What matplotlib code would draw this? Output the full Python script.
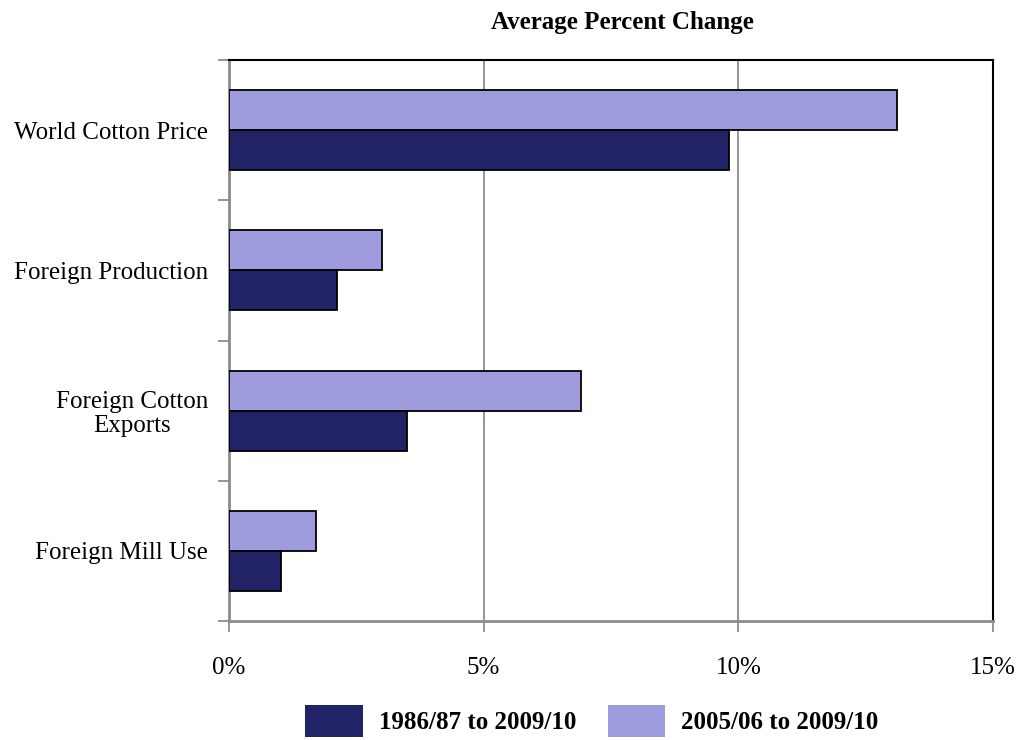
import matplotlib

matplotlib.use("Agg")
import matplotlib.pyplot as plt
from matplotlib.patches import Patch
import numpy as np

categories = ["World Cotton Price", "Foreign Production", "Foreign Cotton\nExports", "Foreign Mill Use"]
long_run = [9.82, 2.12, 3.50, 1.02]      # 1986/87 to 2009/10
recent = [13.12, 3.00, 6.91, 1.71]       # 2005/06 to 2009/10
series_labels = ["1986/87 to 2009/10", "2005/06 to 2009/10"]
x_ticks = [0, 5, 10, 15]

DARK = "#222266"
LIGHT = "#9e9cdd"
GRID = "#8c8c8c"

plt.rcParams["font.family"] = ["Liberation Serif", "DejaVu Serif"]

fig = plt.figure(figsize=(10.23, 7.4), dpi=100)
ax = fig.add_axes([229 / 1023, 119 / 740, 764 / 1023, 561 / 740])

n = len(categories)
centers = np.arange(n)[::-1] + 0.5
h = 0.286
ax.barh(centers + h / 2, recent, height=h, color=LIGHT, edgecolor="black", linewidth=1.3, zorder=3)
ax.barh(centers - h / 2, long_run, height=h, color=DARK, edgecolor="black", linewidth=1.3, zorder=3)

ax.set_xlim(0, 15)
ax.set_ylim(0, n)
ax.set_xticks(x_ticks)
ax.set_xticklabels([f"{t}%" for t in x_ticks], fontsize=18)
ax.set_yticks(np.arange(n + 1))
ax.set_yticklabels([])
ax.set_yticks(centers, minor=True)
ax.set_yticklabels(categories, minor=True, fontsize=18, ha="right", multialignment="center",
                   linespacing=1.12)
ax.tick_params(axis="y", which="minor", length=0, pad=15)
ax.tick_params(axis="y", which="major", length=8, color=GRID, width=1.3)
ax.tick_params(axis="x", length=8, color=GRID, width=1.3, pad=18)

for v in x_ticks[1:-1]:
    ax.axvline(v, color=GRID, linewidth=1.3, zorder=1)

ax.spines["left"].set_color(GRID)
ax.spines["bottom"].set_color(GRID)
ax.spines["left"].set_linewidth(2)
ax.spines["bottom"].set_linewidth(2)
ax.spines["top"].set_color("black")
ax.spines["right"].set_color("black")
ax.spines["top"].set_linewidth(1.5)
ax.spines["right"].set_linewidth(1.5)

fig.text(622 / 1023, 1 - 23 / 740, "Average Percent Change", ha="center", va="center",
         fontsize=18, fontweight="bold")

handles = [Patch(facecolor=DARK, edgecolor="none"), Patch(facecolor=LIGHT, edgecolor="none")]
fig.legend(handles, series_labels, loc="center", bbox_to_anchor=(592 / 1023, 1 - 721 / 740),
           ncol=2, frameon=False, prop={"weight": "bold", "size": 18},
           handlelength=2.3, handleheight=1.6, columnspacing=1.25, handletextpad=0.65,
           borderpad=0.0)

fig.savefig("out.png", dpi=100)
